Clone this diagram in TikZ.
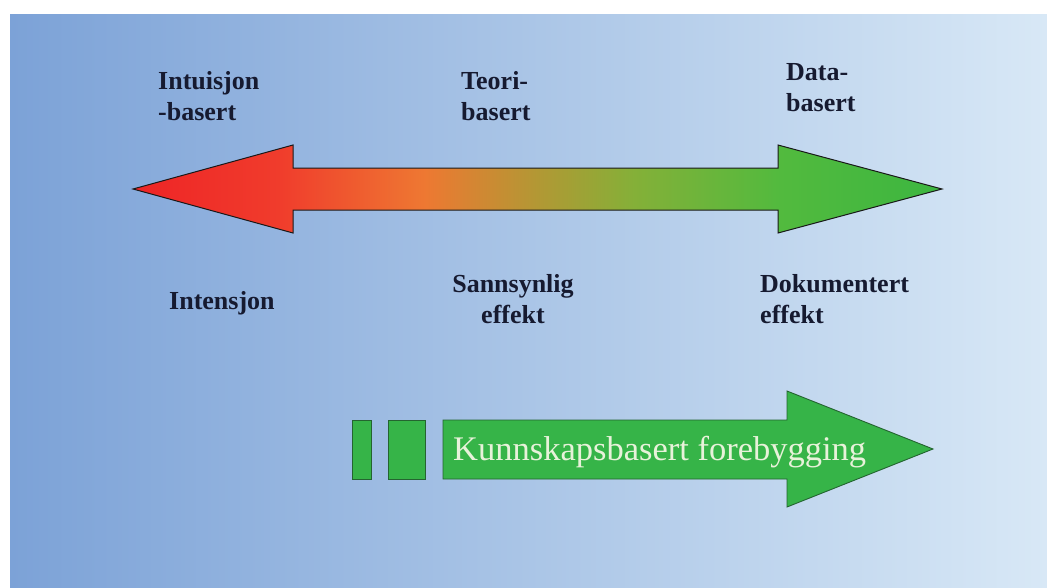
\documentclass[tikz,border=0pt]{standalone}
\usepackage{fontspec}
\setmainfont{Liberation Serif}
\usetikzlibrary{positioning}

\definecolor{bgleft}{RGB}{124,162,215}
\definecolor{bgright}{RGB}{216,232,246}
\definecolor{labelink}{RGB}{22,26,48}
\definecolor{arrred}{RGB}{238,36,38}
\definecolor{arrredb}{RGB}{240,60,44}
\definecolor{arrorange}{RGB}{238,120,50}
\definecolor{arrolive}{RGB}{178,152,52}
\definecolor{arrlime}{RGB}{132,176,56}
\definecolor{arrgreen}{RGB}{82,186,62}
\definecolor{arrgreenb}{RGB}{60,182,64}
\definecolor{boxgreen}{RGB}{54,180,72}
\definecolor{boxedge}{RGB}{36,100,48}
\definecolor{boxtext}{RGB}{232,242,218}

\pgfdeclarehorizontalshading{redtogreen}{100bp}{color(0bp)=(arrred); color(25bp)=(arrred);
  color(34bp)=(arrredb); color(43bp)=(arrorange); color(50bp)=(arrolive);
  color(56bp)=(arrlime); color(65bp)=(arrgreen); color(75bp)=(arrgreenb); color(100bp)=(arrgreenb)}

\begin{document}
\begin{tikzpicture}[x=1pt,y=-1pt,
    label/.style={inner sep=0pt,align=left,text=labelink,font=\bfseries\fontsize{26}{31}\selectfont},
    greenpart/.style={fill=boxgreen,draw=boxedge,line width=0.9pt}]
  \useasboundingbox (0,0) rectangle (1047,587);
  \fill[white] (0,0) rectangle (1047,587);
  \shade[left color=bgleft,right color=bgright] (10,14) rectangle (1047,587);

  % double arrow
  \draw[shading=redtogreen,draw=black!90,line width=1pt]
    (133,189) -- (293,145) -- (293,168) -- (778,168) -- (778,145) -- (942,189)
    -- (778,233) -- (778,210) -- (293,210) -- (293,233) -- cycle;

  \node[label,anchor=base west] (intuisjon) at (158,120) {Intuisjon\\-basert};
  \node[label,anchor=base west] (teori) at (461,120) {Teori-\\basert};
  \node[label,anchor=base west] (data) at (786,111) {Data-\\basert};

  \node[label,anchor=base west] (intensjon) at (169,309) {Intensjon};
  \node[label,anchor=base,align=center] (sannsynlig) at (513,323) {Sannsynlig\\effekt};
  \node[label,anchor=base west] (dokumentert) at (760,323) {Dokumentert\\effekt};

  % lower arrow
  \draw[greenpart] (352,420) rectangle (371,479);
  \draw[greenpart] (388,420) rectangle (425,479);
  \draw[greenpart] (443,420) -- (787,420) -- (787,391) -- (933,449) -- (787,507)
    -- (787,479) -- (443,479) -- cycle;
  \node[inner sep=0pt,anchor=base west,text=boxtext,font=\fontsize{34.5}{40}\selectfont]
    (forebygging) at (453,460) {Kunnskapsbasert forebygging};
\end{tikzpicture}
\end{document}
